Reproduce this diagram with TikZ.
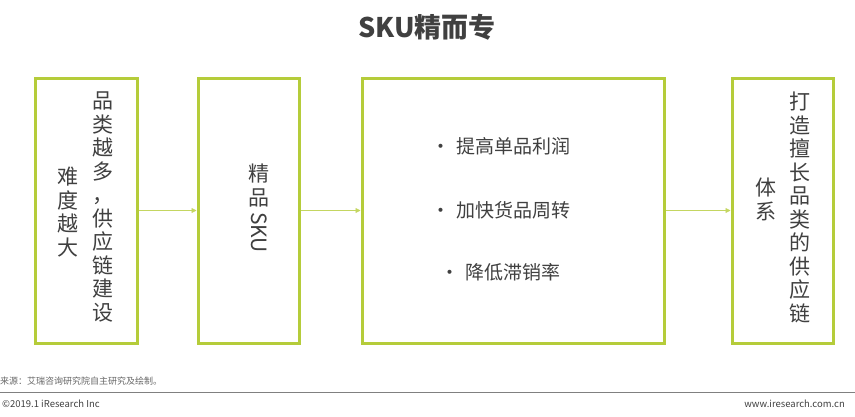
\documentclass[tikz,border=0pt]{standalone}
\usepackage{fontspec}
\setmainfont{Noto Sans CJK SC}
\usetikzlibrary{arrows.meta}
\definecolor{gr}{HTML}{B5CC3A}
\definecolor{txt}{HTML}{404040}
\tikzset{
 box/.style={draw=gr,line width=3pt,fill=white},
 conn/.style={draw=gr!80,line width=0.8pt,-{Triangle[length=5pt,width=5pt]}},
 vt/.style={text=txt,font=\fontsize{21}{23.5}\selectfont,align=center,anchor=north,inner sep=0pt},
 bt/.style={text=txt,font=\fontsize{19}{22}\selectfont,anchor=west,inner sep=0pt}
}
\begin{document}
\begin{tikzpicture}[x=1pt,y=-1pt]
\useasboundingbox (0,0) rectangle (855,416);
\node[font=\bfseries\fontsize{27}{29}\selectfont,text=txt] (title) at (427,27) {SKU精而专};
\node[box,minimum width=102pt,minimum height=265pt] (b1) at (86,210.5) {};
\node[box,minimum width=101pt,minimum height=265pt] (b2) at (248.5,210.5) {};
\node[box,minimum width=302pt,minimum height=265pt] (b3) at (513,210.5) {};
\node[box,minimum width=101pt,minimum height=265pt] (b4) at (782.5,210.5) {};
\draw[conn] (b1) -- (b2);
\draw[conn] (b2) -- (b3);
\draw[conn] (b3) -- (b4);
\node[vt] (c1) at (103,92) {品\\类\\越\\多\\，\\供\\应\\链\\建\\设};
\node[vt] (c2) at (68,167) {难\\度\\越\\大};
\node[vt] (c3) at (259,164) {精\\品};
\node[vt,rotate=-90,anchor=west] (c3b) at (259,212) {SKU};
\node[vt] (c4) at (800,92) {打\\造\\擅\\长\\品\\类\\的\\供\\应\\链};
\node[vt] (c5) at (766,178) {体\\系};
\node[bt] (t1) at (431,146) {•\hspace{6pt}提高单品利润};
\node[bt] (t2) at (431,210) {•\hspace{6pt}加快货品周转};
\node[bt] (t3) at (440,272) {•\hspace{6pt}降低滞销率};
\node[anchor=west,inner sep=0pt,text=txt!80,font=\fontsize{9}{10}\selectfont] (src) at (0,381) {来源：艾瑞咨询研究院自主研究及绘制。};
\draw[gray,line width=0.8pt] (0,392) -- (855,392);
\node[anchor=west,inner sep=0pt,text=txt,font=\fontsize{9.5}{10}\selectfont] (cp) at (2,404) {©2019.1 iResearch Inc};
\node[anchor=east,inner sep=0pt,text=txt,font=\fontsize{9.5}{10}\selectfont] (web) at (845,404) {www.iresearch.com.cn};
\end{tikzpicture}
\end{document}
